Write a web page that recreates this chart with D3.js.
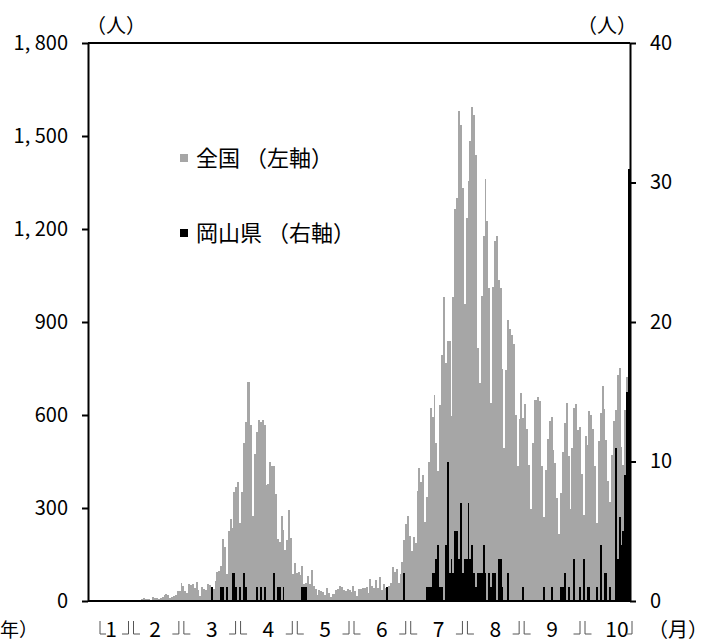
<!DOCTYPE html>
<html><head><meta charset="utf-8">
<script src="https://cdn.jsdelivr.net/npm/d3@7"></script>
<style>
body{margin:0;background:#fff}
svg text{font-family:"Noto Sans CJK JP","Noto Sans",sans-serif;fill:#000}
</style>
</head><body>
<svg id="chart" width="708" height="642"></svg>
<script>
// ---- data (daily new cases, 2020-01-17 .. 2020-10-29) ----
const japanJan = [0,0,0,0,0,0,0,1,1,1,0,2,1,3,2];
const japanFeb = [0,0,0,0,0,0,0,0,0,0,0,1,3,8,9,5,5,7,3,12,11,11,8,10,13,19,21,20,10];
const japanMar = [14,16,20,33,32,59,47,33,26,54,52,55,41,62,34,15,44,39,36,56,53,33,39,65,93,96,112,200,173,87,225];
const japanApr = [266,235,353,367,383,252,351,511,576,708,705,568,275,475,545,584,576,583,568,373,378,449,435,437,345,201,189,273,229,165];
const japanMay = [198,294,203,87,123,91,94,83,112,54,58,80,55,99,48,39,18,35,31,29,20,41,26,14,21,24,35,38,50,44,35];
const japanJun = [32,40,35,28,48,31,15,39,38,42,41,46,26,72,48,41,68,41,76,37,56,41,30,48,59,111,94,104,58,87];
const japanJul = [127,196,250,274,210,160,207,187,355,430,385,408,255,334,450,622,595,666,511,419,632,795,981,768,840,839,596,981,1264,1301,1580];
const japanAug = [1536,1331,958,1236,1356,1485,1595,1567,1440,817,704,985,1176,1360,1227,1011,640,1012,1162,1176,1036,1011,750,493,745,906,878,859,829,600,435];
const japanSep = [588,672,590,634,555,438,296,509,650,648,657,644,434,270,424,521,581,594,486,446,331,215,349,480,574,639,469,297,492,624];
const japanOct = [634,551,562,411,278,532,503,613,600,554,434,253,515,606,693,619,520,386,319,471,580,615,730,752,497,440,616,723,732];

const okaJan = [0,0,0,0,0,0,0,0,0,0,0,0,0,0,0];
const okaFeb = [0,0,0,0,0,0,0,0,0,0,0,0,0,0,0,0,0,0,0,0,0,0,0,0,0,0,0,0,0];
const okaMar = [0,0,0,0,0,0,0,0,0,0,0,0,0,0,0,0,0,0,0,0,0,1,0,0,0,0,1,1,0,1,0];
const okaApr = [0,2,2,1,0,1,0,2,1,0,0,0,0,0,1,0,1,0,1,0,0,0,0,2,0,1,1,0,1,0];
const okaMay = [0,0,0,0,0,0,0,0,1,1,1,0,0,0,0,0,0,0,0,0,0,0,0,0,0,0,0,0,0,0,0];
const okaJun = [0,0,0,0,0,0,0,0,0,0,0,0,0,0,0,0,0,0,0,0,0,0,1,0,0,0,0,0,0,0];
const okaJul = [0,2,0,0,0,0,0,0,0,0,0,0,0,1,1,1,2,2,3,4,1,1,0,4,10,2,3,2,5,5,3];
const okaAug = [7,2,3,3,7,3,4,2,1,2,2,2,4,2,0,2,1,2,2,0,3,3,1,0,0,2,0,0,0,0,0];
const okaSep = [0,0,1,0,0,0,0,0,0,0,0,0,0,1,0,0,0,1,0,0,0,0,1,1,2,0,1,0,0,3];
const okaOct = [0,0,1,0,3,0,1,1,0,0,0,1,0,4,0,2,2,0,1,0,0,11,3,6,4,5,9,15,31];

const leftTicks = [0,300,600,900,1200,1500,1800];
const leftTickLabels = ["0","300","600","900","1, 200","1, 500","1, 800"];
const rightTicks = [0,10,20,30,40];
const monthLabels = ["1","2","3","4","5","6","7","8","9","10"];
const legendLabels = ["全国 （左軸）","岡山県 （右軸）"];
const unitLabel = "（人）", monthUnit = "（月）", yearUnit = "年）";

// ---- build ----
const days = d3.timeDay.range(new Date(2020,0,17), new Date(2020,9,30));
const japan = [].concat(japanJan,japanFeb,japanMar,japanApr,japanMay,japanJun,japanJul,japanAug,japanSep,japanOct);
const okayama = [].concat(okaJan,okaFeb,okaMar,okaApr,okaMay,okaJun,okaJul,okaAug,okaSep,okaOct);
const rows = days.map((d,i)=>({date:d, jp:japan[i], ok:okayama[i]}));

const L=88, R=630, T=43, B=601;
const svg = d3.select("#chart");
const x = d3.scaleBand().domain(days).range([L,R]).padding(0);
const yL = d3.scaleLinear().domain([0,1800]).range([B,T]);
const yR = d3.scaleLinear().domain([0,40]).range([B,T]);
const grey = "#a6a6a6";

svg.append("g").attr("shape-rendering","crispEdges").selectAll("rect").data(rows).join("rect")
  .attr("x",d=>x(d.date)).attr("width",x.bandwidth()+0.01)
  .attr("y",d=>yL(d.jp)).attr("height",d=>B-yL(d.jp)).attr("fill",grey);
svg.append("g").attr("shape-rendering","crispEdges").selectAll("rect").data(rows.filter(d=>d.ok>0)).join("rect")
  .attr("x",d=>x(d.date)).attr("width",x.bandwidth()+0.01)
  .attr("y",d=>yR(d.ok)).attr("height",d=>B-yR(d.ok)).attr("fill","#000");

// frame
svg.append("line").attr("x1",L).attr("x2",R).attr("y1",T).attr("y2",T).attr("stroke","#000").attr("stroke-width",2);
svg.append("line").attr("x1",L).attr("x2",R).attr("y1",B).attr("y2",B).attr("stroke","#000").attr("stroke-width",2);

const gl = svg.append("g").attr("transform",`translate(${L},0)`)
  .call(d3.axisLeft(yL).tickValues(leftTicks).tickSize(6).tickSizeOuter(0).tickPadding(14).tickFormat((d,i)=>leftTickLabels[i]));
const gr = svg.append("g").attr("transform",`translate(${R},0)`)
  .call(d3.axisRight(yR).tickValues(rightTicks).tickSize(6).tickSizeOuter(0).tickPadding(14));
[gl,gr].forEach(g=>{
  g.select(".domain").attr("stroke","#000").attr("stroke-width",2);
  g.selectAll(".tick line").attr("stroke","#000").attr("stroke-width",2);
  g.selectAll(".tick text").attr("font-size",20).attr("font-family",null).attr("fill","#000");
});

// units
svg.append("text").attr("x",116).attr("y",33).attr("text-anchor","middle").attr("font-size",20).text(unitLabel);
svg.append("text").attr("x",607).attr("y",33).attr("text-anchor","middle").attr("font-size",20).text(unitLabel);
svg.append("text").attr("x",678).attr("y",637).attr("text-anchor","middle").attr("font-size",20).text(monthUnit);
svg.append("text").attr("x",0).attr("y",637).attr("text-anchor","start").attr("font-size",19).text(yearUnit);

// month labels (category row)
const mx = d3.scaleLinear().domain([2,9]).range([155,552]);
const labelX = m => m===1 ? 111 : (m===10 ? 617 : mx(m));
const lab = svg.append("g");
lab.selectAll("text").data(monthLabels).join("text")
  .attr("x",(d,i)=>labelX(i+1)).attr("y",637).attr("text-anchor","middle").attr("font-size",21).text(d=>d);
const ySepT=621, ySepB=634, sepColor="#555";
const seps = d3.range(1,10).map(m=>(labelX(m)+labelX(m+1))/2 - 2);
const sepPath = d3.path();
seps.forEach(s=>{
  sepPath.moveTo(s-9,ySepB); sepPath.lineTo(s-2.5,ySepB); sepPath.lineTo(s-2.5,ySepT);
  sepPath.moveTo(s+2.5,ySepT); sepPath.lineTo(s+2.5,ySepB); sepPath.lineTo(s+9,ySepB);
});
const lx0 = labelX(1)-11, lx1 = labelX(10)+15;
sepPath.moveTo(lx0,ySepT); sepPath.lineTo(lx0,ySepB); sepPath.lineTo(lx0+6,ySepB);
sepPath.moveTo(lx1-6,ySepB); sepPath.lineTo(lx1,ySepB); sepPath.lineTo(lx1,ySepT);
lab.append("path").attr("d",sepPath.toString()).attr("fill","none").attr("stroke",sepColor).attr("stroke-width",1);

// legend
const leg = svg.append("g");
[[grey,0],["#000",1]].forEach(([c,i])=>{
  const cy = 158 + i*75;
  leg.append("rect").attr("x",180).attr("y",cy-4).attr("width",8).attr("height",8).attr("fill",c);
  leg.append("text").attr("x",196).attr("y",cy+8).attr("font-size",22).text(legendLabels[i]);
});
</script>
</body></html>
